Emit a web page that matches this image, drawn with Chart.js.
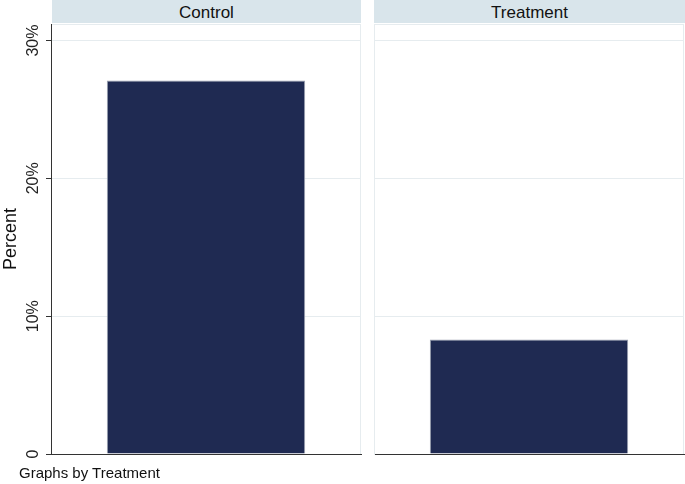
<!DOCTYPE html>
<html>
<head>
<meta charset="utf-8">
<script src="https://cdn.jsdelivr.net/npm/chart.js@4"></script>
<style>
  body { margin: 0; background: #fff; font-family: "Liberation Sans", Arial, sans-serif; }
  #wrap { position: relative; width: 685px; height: 484px; overflow: hidden; }
  canvas { position: absolute; top: 0; }
  .strip { position: absolute; top: 0; height: 23px; background: #d9e5eb;
           font-size: 17px; line-height: 25px; text-align: center; color: #111; }
  #note { position: absolute; left: 19px; top: 464px; font-size: 15px; color: #111; }
</style>
</head>
<body>
<div id="wrap">
  <div class="strip" style="left:52px;width:309px">Control</div>
  <div class="strip" style="left:374px;width:311px">Treatment</div>
  <div style="position:absolute;left:0;top:0;width:362px;height:484px"><canvas id="left"></canvas></div>
  <div style="position:absolute;left:362px;top:0;width:323px;height:484px"><canvas id="right"></canvas></div>
  <div id="note">Graphs by Treatment</div>
</div>
<script>
const categories = ['Control', 'Treatment'];
const percent = [27.1, 8.3];
const yTicks = [0, 10, 20, 30];
const yMax = 31.2;

// light outline round each plot region
const frame = {
  id: 'frame',
  beforeDraw(chart) {
    const a = chart.chartArea, c = chart.ctx;
    c.save();
    c.strokeStyle = '#e6ecef';
    c.lineWidth = 1;
    c.strokeRect(a.left + 0.5, a.top + 0.5, a.right - a.left - 1, a.bottom - a.top);
    c.restore();
  }
};

function panel(id, i, withAxis) {
  new Chart(document.getElementById(id), {
    type: 'bar',
    data: {
      labels: [categories[i]],
      datasets: [{
        data: [percent[i]],
        backgroundColor: '#1f2a52',
        borderColor: '#9aa1b0',
        borderWidth: 1,
        borderSkipped: 'bottom',
        barPercentage: 0.8,
        categoryPercentage: 0.8
      }]
    },
    options: {
      responsive: true,
      maintainAspectRatio: false,
      animation: false,
      layout: { padding: { top: 24, bottom: 30, left: 0, right: 1 } },
      plugins: { legend: { display: false }, tooltip: { enabled: false } },
      scales: {
        x: {
          ticks: { display: false },
          grid: { display: false },
          border: { color: '#333', width: 1 },
          afterFit: s => { s.height = 0; }
        },
        y: {
          min: 0,
          max: yMax,
          afterBuildTicks: s => { s.ticks = yTicks.map(v => ({ value: v })); },
          afterFit: s => { s.width = withAxis ? 51 : 12; },
          border: { color: withAxis ? '#333' : '#e6ecef', width: 1 },
          grid: {
            color: '#e6ecef',
            tickColor: '#333',
            drawTicks: withAxis,
            tickLength: 5
          },
          ticks: {
            display: withAxis,
            minRotation: 90,
            maxRotation: 90,
            crossAlign: 'center',
            padding: -4,
            color: '#222',
            font: { family: 'Liberation Sans', size: 16 },
            callback: v => v === 0 ? '0' : v + '%'
          },
          title: {
            display: withAxis,
            text: 'Percent',
            color: '#111',
            padding: { top: 0, bottom: 0 },
            font: { family: 'Liberation Sans', size: 18 }
          }
        }
      }
    },
    plugins: [frame]
  });
}

panel('left', 0, true);
panel('right', 1, false);
</script>
</body>
</html>
